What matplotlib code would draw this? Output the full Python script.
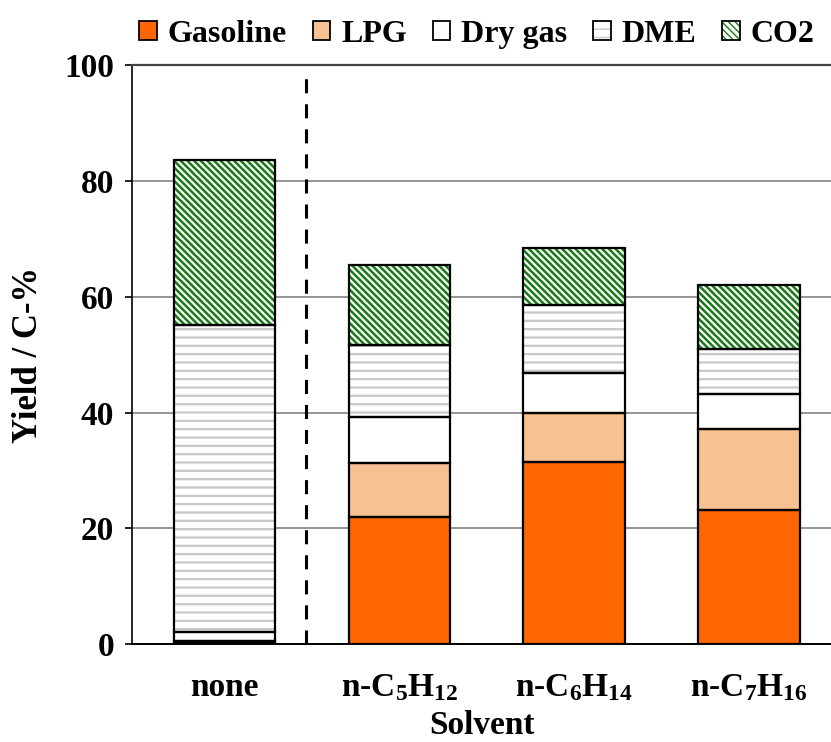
import matplotlib.pyplot as plt
import numpy as np
from matplotlib.patches import Patch
from matplotlib.legend_handler import HandlerTuple

plt.rcParams['font.family'] = 'Liberation Serif'
plt.rcParams['font.weight'] = 'bold'
plt.rcParams['axes.labelweight'] = 'bold'
plt.rcParams['mathtext.fontset'] = 'custom'
plt.rcParams['mathtext.rm'] = 'Liberation Serif:bold'
plt.rcParams['mathtext.default'] = 'rm'

# data, yield in C-%
solvents = ['none', 'n-C$_{5}$H$_{12}$', 'n-C$_{6}$H$_{14}$', 'n-C$_{7}$H$_{16}$']
gasoline = [0.2, 21.9, 31.4, 23.1]
lpg = [0.3, 9.4, 8.5, 14.0]
dry_gas = [1.5, 7.9, 6.9, 6.1]
dme = [53.1, 12.4, 11.7, 7.8]
co2 = [28.5, 13.9, 9.9, 11.0]

series = [
    ('Gasoline', gasoline, '#ff6600', None, None, 1.0),
    ('LPG', lpg, '#f8c191', None, None, 1.0),
    ('Dry gas', dry_gas, 'white', None, None, 1.0),
    ('DME', dme, 'white', '--', '#c8c8c8', 1.6),
    ('CO2', co2, 'white', '\\\\\\\\\\', '#1a7a1a', 1.8),
]

fig = plt.figure(figsize=(8.31, 7.42), dpi=100)
ax = fig.add_axes([0.159, 0.132, 0.841, 0.78])

x = np.arange(len(solvents))
w = 0.58
bottom = np.zeros(len(solvents))
handles = []
for name, vals, face, hatch, hcol, hlw in series:
    vals = np.array(vals)
    with plt.rc_context({'hatch.linewidth': hlw}):
        ax.bar(x, vals, w, bottom=bottom, color=face, edgecolor=hcol if hcol else face,
               linewidth=0, hatch=hatch, zorder=2)
        h1 = Patch(facecolor=face, edgecolor=hcol if hcol else face, linewidth=0, hatch=hatch)
    ax.bar(x, vals, w, bottom=bottom, fill=False, edgecolor='black', linewidth=1.6, zorder=3)
    h2 = Patch(fill=False, edgecolor='black', linewidth=1.3)
    handles.append((h1, h2))
    bottom += vals

ax.axvline(0.466, ymin=0, ymax=0.995, color='black', ls=(0, (4.6, 3.6)), lw=2.2, zorder=4)

ax.set_xlim(-0.53, 3.47)
ax.set_ylim(0, 100)
ax.set_yticks(np.arange(0, 101, 20))
ax.set_xticks(x)
ax.set_xticklabels(solvents)
ax.tick_params(axis='y', labelsize=24, length=5, width=1.2, pad=8)
ax.tick_params(axis='x', labelsize=24, length=0, pad=20)
ax.yaxis.grid(True, color='#8c8c8c', lw=1.3, zorder=0)
ax.set_axisbelow(True)
ax.spines['right'].set_visible(False)
ax.spines['top'].set_color('#444444')
ax.spines['top'].set_linewidth(1.6)
ax.spines['left'].set_linewidth(1.2)
ax.spines['bottom'].set_linewidth(1.4)

ax.set_xlabel('Solvent', fontsize=24, labelpad=5)
ax.set_ylabel('Yield / C-%', fontsize=25, labelpad=14)

fig.legend(handles, [s[0] for s in series], handler_map={tuple: HandlerTuple(ndivide=1, pad=0)},
           loc='upper center', bbox_to_anchor=(0.574, 1.012), ncol=5, frameon=False,
           fontsize=23, handlelength=0.55, handleheight=0.55, handletextpad=0.35,
           columnspacing=0.8)

fig.savefig('out.png', dpi=100)
